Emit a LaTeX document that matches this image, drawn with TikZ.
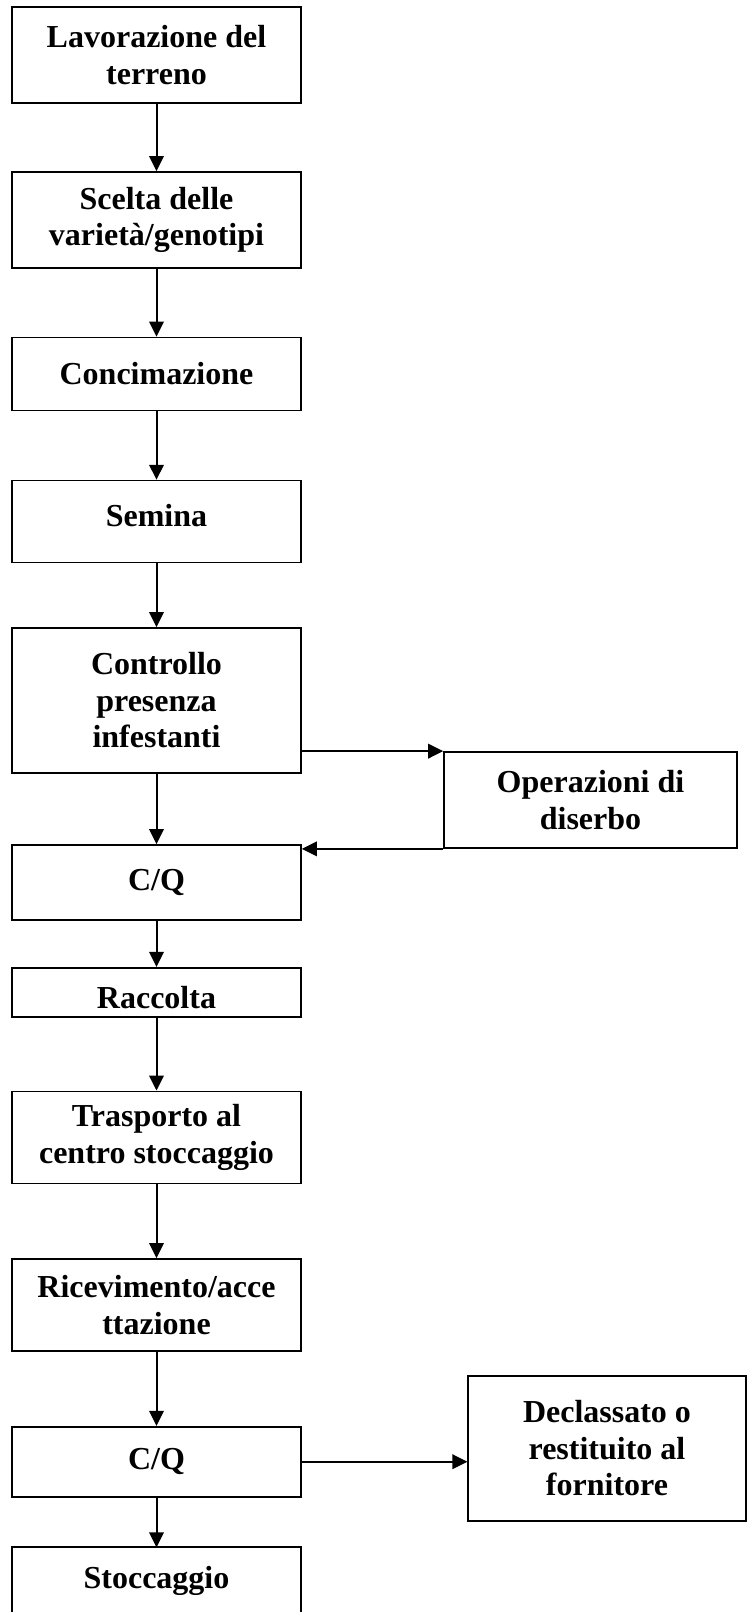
\documentclass[tikz,border=0pt]{standalone}
\usepackage{fontspec}
\setmainfont{Liberation Serif}
\usetikzlibrary{arrows.meta}
\begin{document}
\begin{tikzpicture}[x=1pt,y=-1pt,
  box/.style={draw=black,line width=1.7pt,minimum width=289pt,inner sep=0pt,align=center,
    font=\fontsize{32}{36.5}\selectfont\bfseries},
  txt/.style={inner sep=0pt,align=center,font=\fontsize{32}{36.5}\selectfont\bfseries},
  arr/.style={line width=2pt,-{Triangle[length=15pt,width=14.5pt]}}]
\useasboundingbox (0,0) rectangle (747,1612);
\node[box,minimum height=96pt] (b1) at (156.5,55) {Lavorazione del\\terreno};
\node[box,minimum height=96pt] (b2) at (156.5,220) {Scelta delle\\varietà/genotipi};
\node[box,minimum height=73pt] (b3) at (156.5,374) {Concimazione};
\node[box,minimum height=82pt] (b4) at (156.5,521.6) {\raisebox{6pt}[\height][\depth]{Semina}};
\node[box,minimum height=145pt] (b5) at (156.5,700.5) {Controllo\\presenza\\infestanti};
\node[box,minimum width=293pt,minimum height=96pt] (op) at (590.5,800) {Operazioni di\\diserbo};
\node[box,minimum height=75pt] (b6) at (156.5,882.5) {C/Q};
\node[box,minimum height=49.3pt] (b7) at (156.5,992.4) {\raisebox{-5pt}[\height][\depth]{Raccolta}};
\node[box,minimum height=92pt] (b8) at (156.5,1137.4) {Trasporto al\\centro stoccaggio};
\node[box,minimum height=92pt] (b9) at (156.5,1305) {Ricevimento/acce\\ttazione};
\node[box,minimum height=70pt] (b10) at (156.5,1461.7) {C/Q};
\node[box,minimum width=277.5pt,minimum height=145pt] (dec) at (607,1448.2) {Declassato o\\restituito al\\fornitore};
\node[txt] (b11) at (156.5,1581) {Stoccaggio};
\draw[line width=1.7pt] (12,1640) -- (12,1547.3) -- (301,1547.3) -- (301,1640);
\coordinate (b11top) at (156.5,1547.3);
\draw[arr] (b1) -- (b2);
\draw[arr] (b2) -- (b3);
\draw[arr] (b3) -- (b4);
\draw[arr] (b4) -- (b5);
\draw[arr] (b5) -- (b6);
\draw[arr] (b6) -- (b7);
\draw[arr] (b7) -- (b8);
\draw[arr] (b8) -- (b9);
\draw[arr] (b9) -- (b10);
\draw[arr] (b10.south) -- (b11top);
\draw[arr] (b5.east |- op.north west) -- (op.north west);
\draw[arr] (op.south west) -- (b6.east |- op.south west);
\draw[arr] (b10.east) -- (dec.west |- b10.east);
\end{tikzpicture}
\end{document}
